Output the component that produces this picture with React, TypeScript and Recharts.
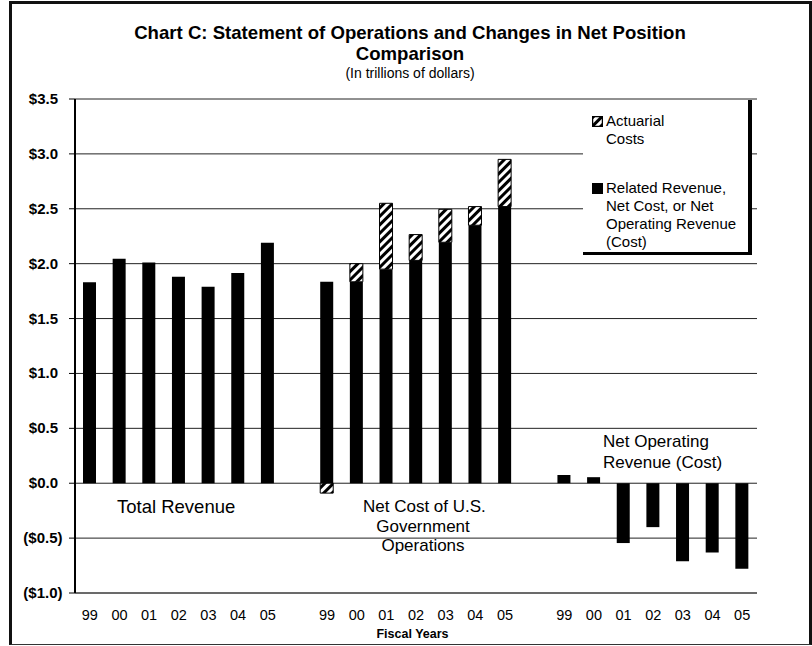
import React from 'react'
import { BarChart, Bar, XAxis, YAxis, CartesianGrid, Legend } from 'recharts'

// ── Values (trillions of dollars) ────────────────────────────────────────────

const years = ['99', '00', '01', '02', '03', '04', '05']
const totalRevenue = [1.83, 2.045, 2.01, 1.88, 1.79, 1.915, 2.19]
const netCostBase = [1.835, 1.835, 1.95, 2.03, 2.195, 2.35, 2.52]
const netCostActuarial = [-0.09, 0.165, 0.6, 0.235, 0.3, 0.17, 0.43]
const netOperating = [0.075, 0.055, -0.545, -0.4, -0.71, -0.63, -0.78]
const yTicks = [-1, -0.5, 0, 0.5, 1, 1.5, 2, 2.5, 3, 3.5]

const FONT = '"Liberation Sans", Arial, Helvetica, sans-serif'

type Row = { key: string; year: string; solid: number | null; act: number | null }

const rows: Row[] = [
  ...years.map((y, i) => ({ key: `tr${y}`, year: y, solid: totalRevenue[i], act: null })),
  { key: 'gap1', year: '', solid: null, act: null },
  ...years.map((y, i) => ({ key: `nc${y}`, year: y, solid: netCostBase[i], act: netCostActuarial[i] })),
  { key: 'gap2', year: '', solid: null, act: null },
  ...years.map((y, i) => ({ key: `no${y}`, year: y, solid: netOperating[i], act: null })),
]

const yearOf: Record<string, string> = Object.fromEntries(rows.map((r) => [r.key, r.year]))

const fmtDollar = (v: number) =>
  v < 0 ? `($${Math.abs(v).toFixed(1)})` : `$${v.toFixed(1)}`

function YTick({ x, y, payload }: any) {
  const v = payload.value as number
  return (
    <text
      x={x + (v < 0 ? 4.5 : 0)}
      y={y}
      dy={5}
      textAnchor="end"
      fontFamily={FONT}
      fontWeight="bold"
      fontSize={15}
      fill="#000"
    >
      {fmtDollar(v)}
    </text>
  )
}

function HatchSwatch() {
  return (
    <svg width={11} height={11} style={{ display: 'block' }}>
      <rect x={0.5} y={0.5} width={10} height={10} fill="url(#hatch)" stroke="#000" strokeWidth={1.5} />
    </svg>
  )
}

function LegendBox() {
  const line = { fontFamily: FONT, fontSize: 15, lineHeight: '18px', color: '#000' }
  return (
    <div
      style={{
        boxSizing: 'border-box',
        width: 169,
        height: 155,
        background: '#fff',
        borderRight: '4px solid #000',
        borderBottom: '3px solid #000',
        position: 'relative',
      }}
    >
      <div style={{ position: 'absolute', left: 9, top: 16 }}>
        <HatchSwatch />
      </div>
      <div style={{ ...line, position: 'absolute', left: 23, top: 12 }}>
        Actuarial
        <br />
        Costs
      </div>
      <div style={{ position: 'absolute', left: 9, top: 83, width: 11, height: 11, background: '#000' }} />
      <div style={{ ...line, position: 'absolute', left: 23, top: 79 }}>
        Related Revenue,
        <br />
        Net Cost, or Net
        <br />
        Operating Revenue
        <br />
        (Cost)
      </div>
    </div>
  )
}

const textAbs = (left: number, top: number, extra: React.CSSProperties = {}): React.CSSProperties => ({
  position: 'absolute',
  left,
  top,
  fontFamily: FONT,
  color: '#000',
  whiteSpace: 'nowrap',
  ...extra,
})

export default function App() {
  return (
    <div style={{ position: 'absolute', left: 0, top: 0, width: 812, height: 646, background: '#fff', overflow: 'hidden' }}>
      {/* outer frame */}
      <div
        style={{
          position: 'absolute',
          left: 9,
          top: 1,
          width: 803,
          height: 644,
          boxSizing: 'border-box',
          borderLeft: '3px solid #111',
          borderTop: '3px solid #111',
          borderRight: '3px solid #111',
          borderBottom: '1.5px solid #333',
        }}
      />

      {/* titles */}
      <div style={textAbs(0, 22, { width: 820, textAlign: 'center', fontWeight: 'bold', fontSize: 18.6, lineHeight: '21px' })}>
        Chart C: Statement of Operations and Changes in Net Position
        <br />
        Comparison
      </div>
      <div style={textAbs(0, 65, { width: 820, textAlign: 'center', fontSize: 14 })}>(In trillions of dollars)</div>

      <div style={{ position: 'absolute', left: 0, top: 0 }}>
        <BarChart
          width={812}
          height={646}
          data={rows}
          stackOffset="sign"
          barSize={13}
          margin={{ top: 99, right: 55, bottom: 23, left: 15 }}
        >
          <defs>
            <pattern id="hatch" width="6" height="6" patternUnits="userSpaceOnUse" patternTransform="rotate(45)">
              <rect width="6" height="6" fill="#fff" />
              <line x1="1.5" y1="0" x2="1.5" y2="6" stroke="#000" strokeWidth="3" />
            </pattern>
          </defs>
          <CartesianGrid vertical={false} stroke="#222" strokeWidth={1} />
          <XAxis
            dataKey="key"
            interval={0}
            height={30}
            tickLine={false}
            tickSize={0}
            tickMargin={17}
            axisLine={{ stroke: '#444' }}
            tickFormatter={(k: string) => yearOf[k] ?? ''}
            tick={{ fontFamily: FONT, fontSize: 14.5, fill: '#000' }}
          />
          <YAxis
            domain={[-1, 3.5]}
            ticks={yTicks}
            width={60}
            tickSize={6}
            tickMargin={11}
            tickLine={{ stroke: '#000' }}
            axisLine={{ stroke: '#000', strokeWidth: 2 }}
            tick={<YTick />}
            interval={0}
          />
          <YAxis
            yAxisId="frame"
            orientation="right"
            domain={[-1, 3.5]}
            width={0}
            tick={false}
            tickLine={false}
            axisLine={{ stroke: '#555' }}
          />
          <Legend
            layout="vertical"
            align="center"
            verticalAlign="middle"
            content={<LegendBox />}
            wrapperStyle={{ left: 583, top: 100, width: 169, height: 155 }}
          />
          <Bar dataKey="solid" stackId="a" fill="#000" isAnimationActive={false} />
          <Bar dataKey="act" stackId="a" fill="url(#hatch)" stroke="#000" strokeWidth={1} isAnimationActive={false} />
        </BarChart>
      </div>

      {/* group annotations */}
      <div style={textAbs(117, 496, { fontSize: 18.5 })}>Total Revenue</div>
      <div style={textAbs(363, 497, { width: 120, textAlign: 'center', fontSize: 17, lineHeight: '19.5px' })}>
        Net Cost of U.S.
        <br />
        Government
        <br />
        Operations
      </div>
      <div style={textAbs(603, 432, { fontSize: 17, lineHeight: '20.5px' })}>
        Net Operating
        <br />
        Revenue (Cost)
      </div>
      <div style={textAbs(360, 627, { width: 105, textAlign: 'center', fontSize: 12.5, fontWeight: 'bold' })}>Fiscal Years</div>
    </div>
  )
}
